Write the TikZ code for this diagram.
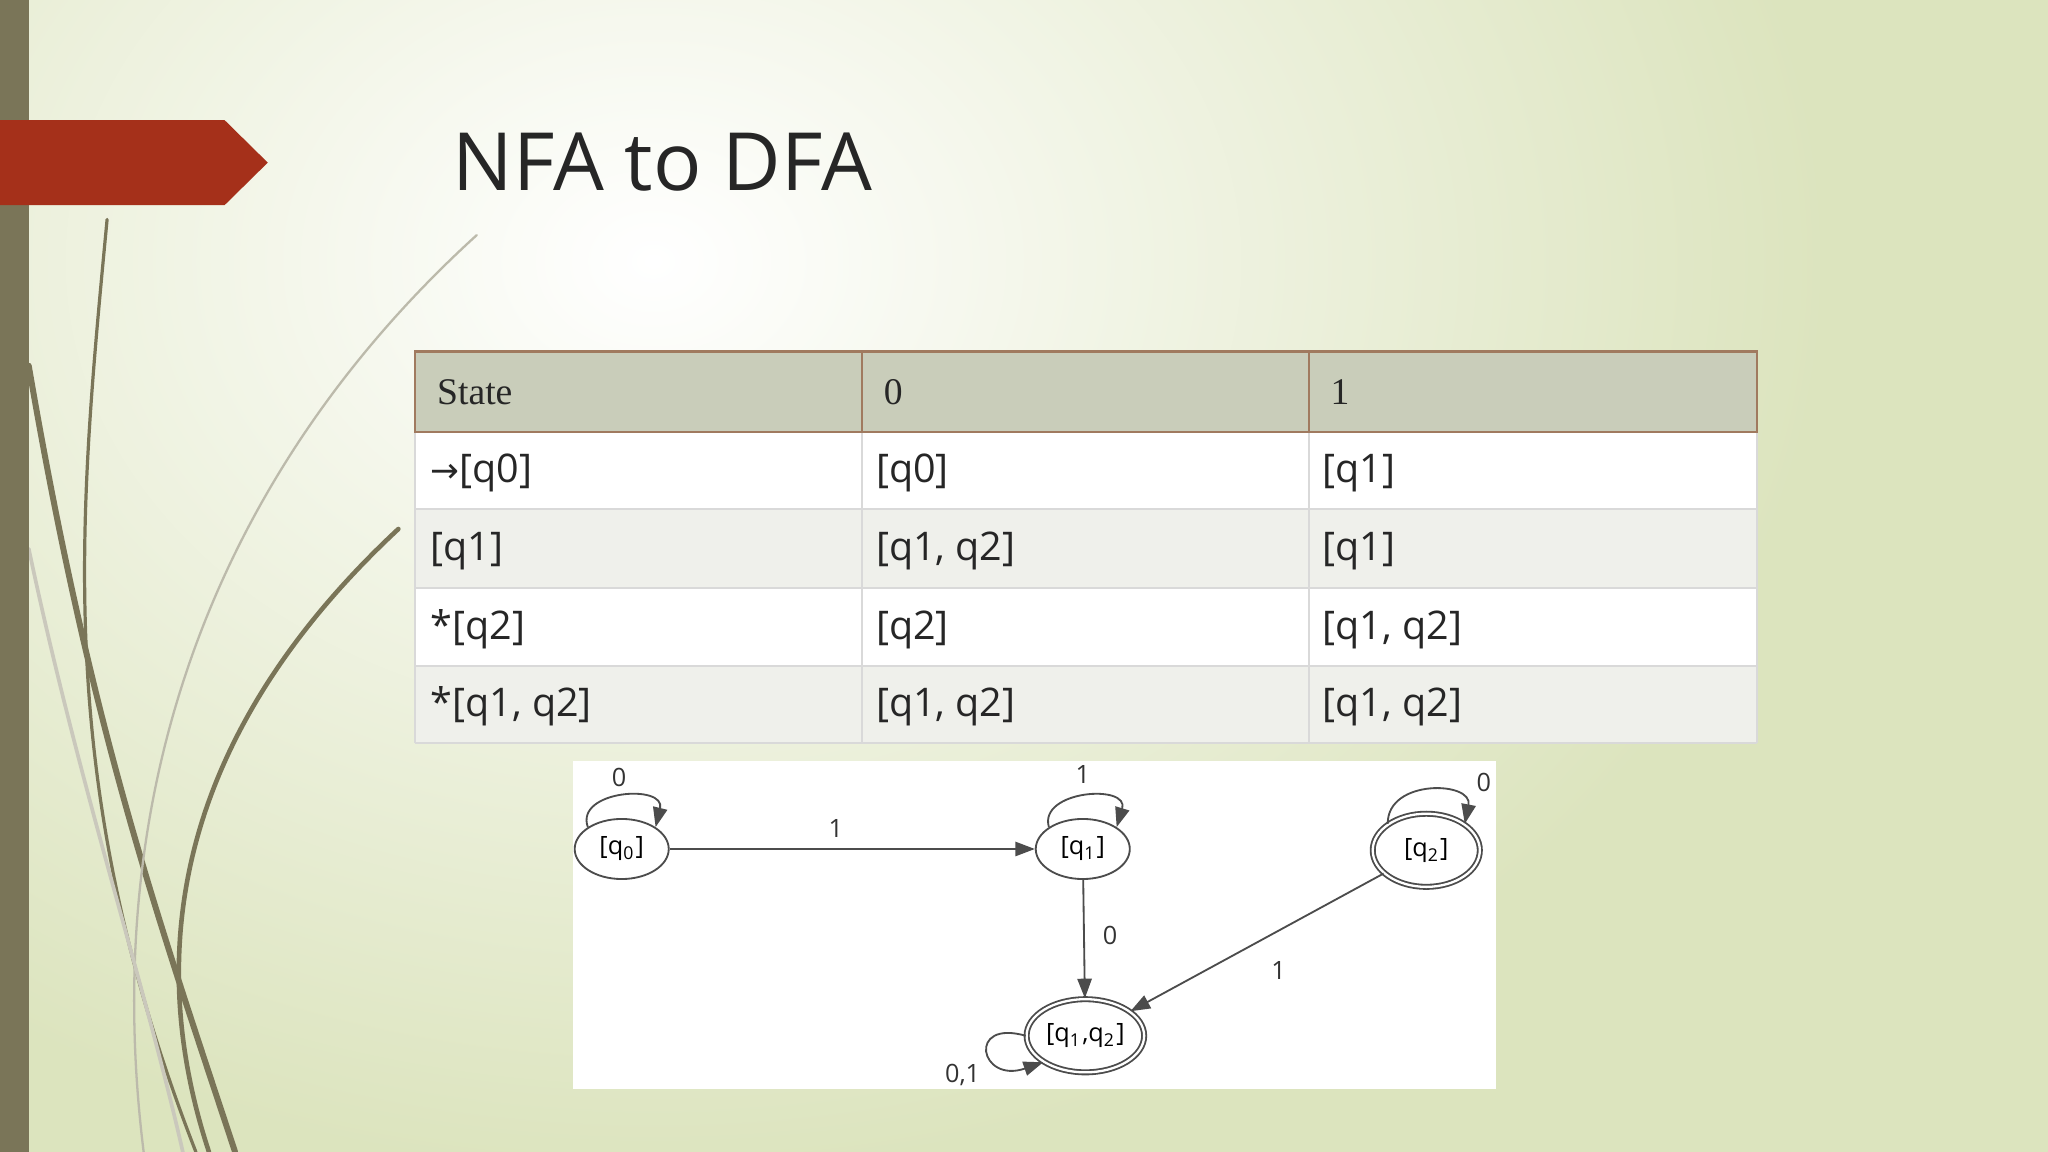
\documentclass[tikz,border=0pt]{standalone}
\usepackage{fontspec}
\setmainfont{Liberation Serif}
\newfontfamily\sansf{Open Sans}
\newfontfamily\symf{DejaVu Sans}
\usetikzlibrary{arrows.meta,shapes.geometric}
\definecolor{olive}{HTML}{7A7558}
\definecolor{redarrow}{HTML}{A5301A}
\definecolor{hdr}{HTML}{C9CDBA}
\definecolor{bord}{HTML}{A07A5F}
\definecolor{bgg}{HTML}{DCE4BE}
\definecolor{rowg}{HTML}{EFF0EB}
\tikzset{
 cell/.style={anchor=west,inner sep=0pt,font=\sansf\fontsize{8.6}{10}\selectfont,text=black!85},
 hcell/.style={anchor=west,inner sep=0pt,font=\fontsize{8.2}{10}\selectfont,text=black!85},
 st/.style={draw=black!70,ellipse,minimum width=7.2mm,minimum height=4.6mm,inner sep=0pt,font=\sansf\fontsize{5.5}{6}\selectfont},
 acc/.style={st,double,double distance=0.5pt},
 edge/.style={draw=black!70,line width=0.4pt,-{Triangle[length=1.5mm,width=1.1mm]}},
 lbl/.style={font=\sansf\fontsize{5.5}{6}\selectfont,text=black!80,inner sep=0pt},
 deco/.style={draw=olive,line cap=round}
}
\begin{document}
\begin{tikzpicture}[x=0.1mm,y=-0.1mm]
\useasboundingbox (0,0) rectangle (1568,882);
\fill[bgg] (0,0) rectangle (1568,882);
\shade[inner color=white,outer color=bgg] (-400,-500) rectangle (1400,900);
% decorative curves
\draw[deco,line width=1.3pt] (22,280) .. controls (70,560) and (120,700) .. (180,882);
\draw[deco,line width=0.7pt] (82,168) .. controls (60,400) and (40,600) .. (150,882);
\draw[deco,draw=olive!50,line width=0.5pt] (365,180) .. controls (200,330) and (70,560) .. (110,882);
\draw[deco,line width=1pt] (305,405) .. controls (160,540) and (100,700) .. (160,882);
\draw[deco,draw=olive!40,line width=0.8pt] (22,420) .. controls (60,600) and (110,750) .. (140,882);
\fill[olive] (0,0) rectangle (22,882);
\fill[redarrow] (0,92) -- (172,92) -- (205,124.5) -- (172,157) -- (0,157) -- cycle;
\node[anchor=base west,font=\sansf\fontsize{17.5}{20}\selectfont,text=black!85,inner sep=0] (title) at (346,146) {NFA to DFA};
% table
\fill[white] (318,331) rectangle (1345,569);
\fill[rowg] (318,390) rectangle (1345,450);
\fill[rowg] (318,510) rectangle (1345,569);
\fill[hdr] (318,269) rectangle (1345,331);
\draw[black!15] (318,390) -- (1345,390) (318,450) -- (1345,450) (318,510) -- (1345,510) (318,569) -- (1345,569)
  (318,331) -- (318,569) (660,331) -- (660,569) (1002,331) -- (1002,569) (1345,331) -- (1345,569);
\draw[bord,line width=0.5pt] (318,269) rectangle (1345,331) (660,269) -- (660,331) (1002,269) -- (1002,331);
\node[hcell] (h1) at (334,300) {State};
\node[hcell] (h2) at (676,300) {0};
\node[hcell] (h3) at (1018,300) {1};
\node[cell] (a1) at (329,362) {{\symf\fontsize{7.5}{10}\selectfont →}[q0]};
\node[cell] (a2) at (670,362) {[q0]};
\node[cell] (a3) at (1012,362) {[q1]};
\node[cell] (b1) at (329,422) {[q1]};
\node[cell] (b2) at (670,422) {[q1, q2]};
\node[cell] (b3) at (1012,422) {[q1]};
\node[cell] (c1) at (329,482) {*[q2]};
\node[cell] (c2) at (670,482) {[q2]};
\node[cell] (c3) at (1012,482) {[q1, q2]};
\node[cell] (d1) at (329,541) {*[q1, q2]};
\node[cell] (d2) at (670,541) {[q1, q2]};
\node[cell] (d3) at (1012,541) {[q1, q2]};
% automaton
\fill[white] (439,583) rectangle (1145,834);
\node[st] (q0) at (476,650) {[q\textsubscript{0}]};
\node[st] (q1) at (829,650) {[q\textsubscript{1}]};
\node[acc,minimum width=8.2mm,minimum height=5.6mm] (q2) at (1092,651) {[q\textsubscript{2}]};
\node[acc,minimum width=9mm,minimum height=5.6mm] (q12) at (831,793) {[q\textsubscript{1},q\textsubscript{2}]};
\draw[edge] (q0) -- (q1);
\node[lbl] (l1) at (640,634) {1};
\draw[edge] (q1) -- (q12);
\node[lbl] (l2) at (850,716) {0};
\draw[edge] (q2) -- (q12);
\node[lbl] (l3) at (979,743) {1};
\draw[edge] (q0.north west) .. controls (440,605) and (510,600) .. (q0.north east);
\node[lbl] (l4) at (474,595) {0};
\draw[edge] (q1.north west) .. controls (795,605) and (865,600) .. (q1.north east);
\node[lbl] (l5) at (829,593) {1};
\draw[edge] (q2.north west) .. controls (1062,596) and (1128,598) .. (q2.north east);
\node[lbl] (l6) at (1136,599) {0};
\draw[edge] (q12.west) .. controls (740,780) and (750,830) .. (q12.south west);
\node[lbl] (l7) at (737,823) {0,1};
\end{tikzpicture}
\end{document}
